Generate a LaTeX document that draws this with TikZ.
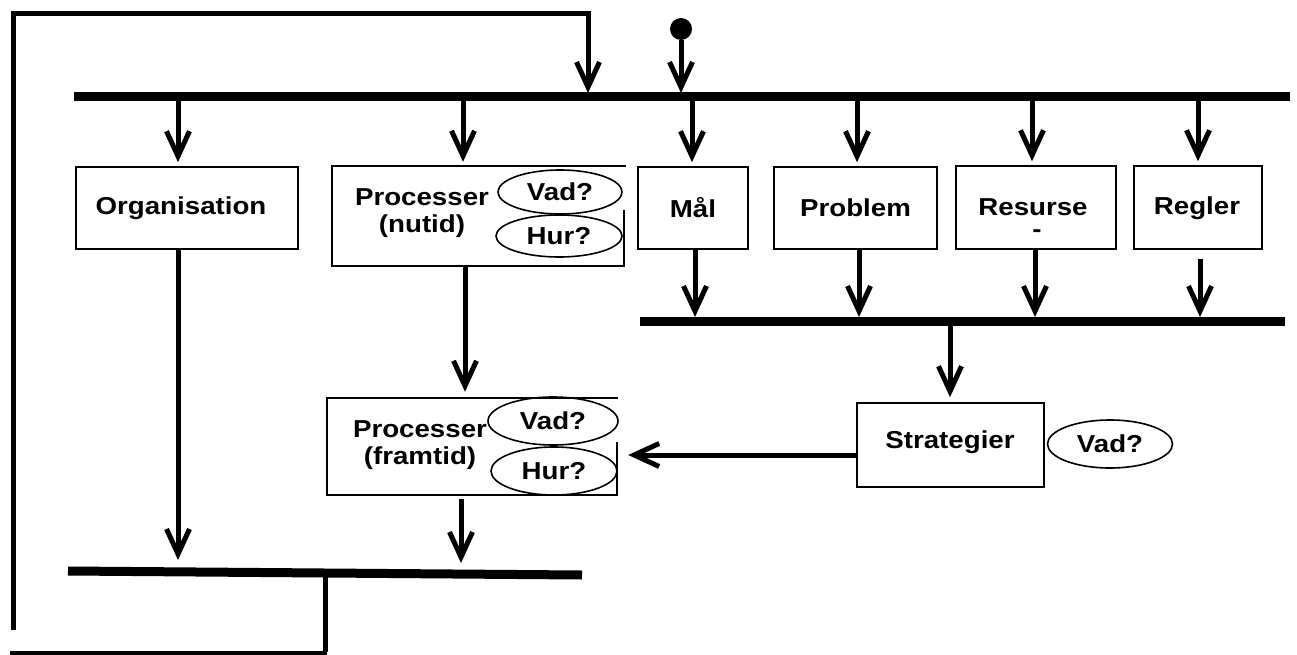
\documentclass[tikz,border=0pt]{standalone}
\usepackage{fontspec}
\setmainfont{Liberation Sans}[FakeStretch=1.13]
\usetikzlibrary{arrows.meta,shapes.geometric}
\newcommand\dlbl{\fontsize{24.5}{27}\selectfont\bfseries}
\begin{document}
\begin{tikzpicture}[x=1pt,y=-1pt,
  box/.style={draw, line width=1.6pt, rectangle, inner sep=0pt, font=\dlbl},
  ell/.style={draw, ellipse, line width=1.6pt, inner sep=0pt, font=\dlbl},
  edgeline/.style={line width=1.6pt},
  bar/.style={line width=9pt},
  wire/.style={line width=5pt},
  arr/.style={line width=5pt, -{Straight Barb[length=25pt,width=23pt]}},
]
\useasboundingbox (0,0) rectangle (1297,655);

% bars
\coordinate (tbL) at (74,97);  \coordinate (tbR) at (1290,97);
\coordinate (mbL) at (640,321); \coordinate (mbR) at (1285,321);
\coordinate (bbL) at (68,571); \coordinate (bbR) at (582,575);
\draw[bar] (tbL) -- (tbR);
\draw[bar] (mbL) -- (mbR);
\draw[bar] (bbL) -- (bbR);

% boxes
\node[box, minimum width=222pt, minimum height=82pt] (org) at (187,208) {};
\node[font=\dlbl] (orgt) at (181,208) {Organisation};

\node[minimum width=292pt, minimum height=100pt, inner sep=0pt] (pn) at (478,216) {};
\draw[edgeline] ([yshift=-44pt]pn.north east) -- (pn.south east) -- (pn.south west) -- (pn.north west) -- ([xshift=2pt]pn.north east);
\node[font=\dlbl, align=center] (pnt) at (422,213) {Processer\\(nutid)};
\node[ell, minimum width=124pt, minimum height=44pt] (pnv) at (560,192) {Vad?};
\node[ell, minimum width=126pt, minimum height=42pt] (pnh) at (559,236) {Hur?};

\node[minimum width=290pt, minimum height=97pt, inner sep=0pt] (pf) at (472,446.5) {};
\draw[edgeline] ([yshift=-44pt]pf.north east) -- (pf.south east) -- (pf.south west) -- (pf.north west) -- ([xshift=1pt]pf.north east);
\node[font=\dlbl, align=center] (pft) at (420,445) {Processer\\(framtid)};
\node[ell, minimum width=130pt, minimum height=48pt] (pfv) at (553,421) {Vad?};
\node[ell, minimum width=126pt, minimum height=48pt] (pfh) at (554,471) {Hur?};

\node[box, minimum width=110pt, minimum height=82pt] (mal) at (693,208) {Mål};
\node[box, minimum width=163pt, minimum height=82pt] (prob) at (855.5,208) {Problem};
\node[box, minimum width=160pt, minimum height=83pt] (res) at (1036,207.5) {};
\node[font=\dlbl] (rest) at (1033,207) {Resurse};
\node[font=\dlbl] (dash) at (1037,234) {-};
\node[box, minimum width=128pt, minimum height=83pt] (reg) at (1198,207.5) {};
\node[font=\dlbl] (regt) at (1197,208) {Regler};

\node[box, minimum width=187pt, minimum height=84pt] (strat) at (950.5,445) {};
\node[font=\dlbl] (stratt) at (950,442) {Strategier};
\node[ell, minimum width=125pt, minimum height=48pt] (sv) at (1110,444) {Vad?};

\node[circle, fill, inner sep=0pt, minimum size=22pt] (start) at (681,29) {};

% feedback loop
\coordinate (fl0) at (13,630);
\coordinate (flA) at (13,14);
\coordinate (flB) at (588,14);
\coordinate (flC) at (588,93);
\draw[arr, line join=miter] (fl0) -- (flA) -- (flB) -- (flC);
\coordinate (fbA) at (325,573);
\coordinate (fbB) at (325,652);
\coordinate (fbC) at (10,653);
\draw[wire] (fbA) -- (fbB);
\draw[line width=4pt] (327,653) -- (fbC);

% start
\draw[arr] (start) -- (681,93);

% top bar to boxes
\draw[arr, shorten >=4pt] (178,97) -- (178,0 |- org.north);
\draw[arr, shorten >=4pt] (463,97) -- (463,0 |- pn.north);
\draw[arr, shorten >=4pt] (692,97) -- (692,0 |- mal.north);
\draw[arr, shorten >=4pt] (857,97) -- (857,0 |- prob.north);
\draw[arr, shorten >=4pt] (1032,97) -- (1032,0 |- res.north);
\draw[arr, shorten >=4pt] (1198,97) -- (1198,0 |- reg.north);

% boxes to middle bar
\draw[arr] (695,0 |- mal.south) -- (695,317);
\draw[arr] (859,0 |- prob.south) -- (859,317);
\draw[arr] (1035,0 |- res.south) -- (1035,317);
\draw[arr, shorten <=9pt] (1200,0 |- reg.south) -- (1200,317);

% middle bar to strategier
\draw[arr, shorten >=5pt] (950,321) -- (950,0 |- strat.north);
% strategier to processer framtid
\draw[arr, shorten >=11pt] ([yshift=-10pt]strat.west) -- ([yshift=-10pt]strat.west -| pf.east);
% processer nutid to framtid
\draw[arr, shorten >=6pt] (465,0 |- pn.south) -- (465,0 |- pf.north);
% to bottom bar
\draw[arr] (178,0 |- org.south) -- (178,560);
\draw[arr, shorten <=4pt] (461,0 |- pf.south) -- (461,563);
\end{tikzpicture}
\end{document}
